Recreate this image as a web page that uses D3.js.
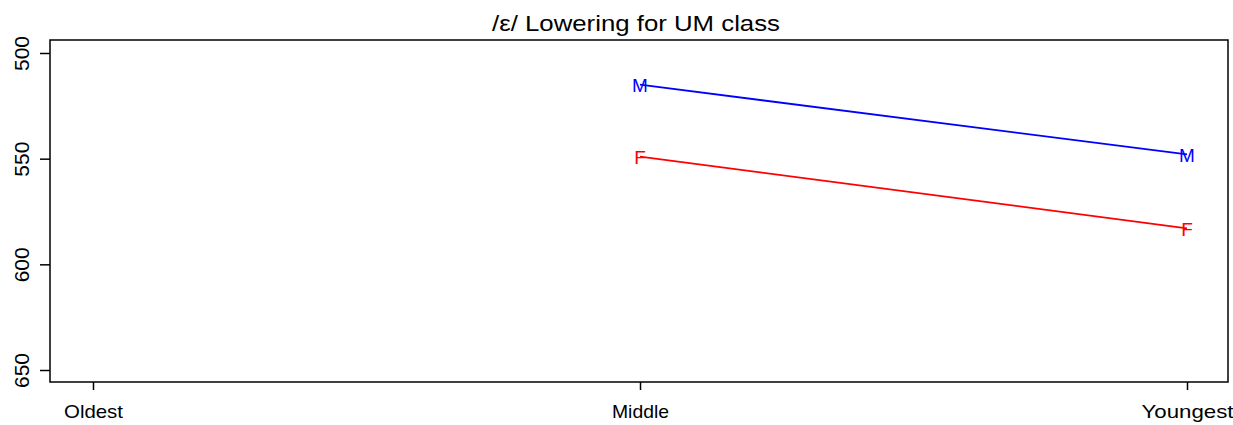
<!DOCTYPE html>
<html>
<head>
<meta charset="utf-8">
<script src="https://cdn.jsdelivr.net/npm/d3@7"></script>
<style>
  html, body { margin: 0; padding: 0; background: #fff; }
  svg { display: block; font-family: Arial, "Liberation Sans", sans-serif; }
</style>
</head>
<body>
<svg id="chart" width="1233" height="425"></svg>
<script>
// Age groups along the x axis
const ageGroups = ["Oldest", "Middle", "Youngest"];
// Mean F1 (Hz) per age group; null where no speakers were recorded
const maleValues = [null, 515, 548];
const femaleValues = [null, 549, 583];
// Y axis ticks (F1, drawn inverted so lower vowels sit lower)
const yTicks = [500, 550, 600, 650];

const series = [
  { label: "M", color: "#0000ff", values: maleValues },
  { label: "F", color: "#ff0000", values: femaleValues }
];

const svg = d3.select("#chart");
const box = { left: 50, right: 1228, top: 40, bottom: 382 };

const x = d3.scalePoint()
  .domain(ageGroups)
  .range([93, 1187]);

const y = d3.scaleLinear()
  .domain([500, 650])
  .range([53, 370]);

// Plot frame
svg.append("rect")
  .attr("x", box.left).attr("y", box.top)
  .attr("width", box.right - box.left).attr("height", box.bottom - box.top)
  .attr("fill", "none").attr("stroke", "#000").attr("stroke-width", 1.5);

// Title
svg.append("text")
  .attr("x", 636).attr("y", 31)
  .attr("text-anchor", "middle")
  .attr("font-size", 22)
  .attr("textLength", 288).attr("lengthAdjust", "spacingAndGlyphs")
  .attr("fill", "#000")
  .text("/ε/ Lowering for UM class");

// Y axis
const yAxis = svg.append("g")
  .attr("transform", `translate(${box.left},0)`)
  .call(d3.axisLeft(y).tickValues(yTicks).tickSize(10).tickFormat(d3.format("d")));
yAxis.select(".domain").remove();
yAxis.selectAll(".tick line").attr("stroke", "#000").attr("stroke-width", 1.5);
yAxis.selectAll(".tick text")
  .attr("x", 0).attr("y", 0)
  .attr("transform", "translate(-28,0) rotate(-90)")
  .attr("text-anchor", "middle")
  .attr("dy", "0.35em")
  .attr("font-size", 21)
  .attr("textLength", 35).attr("lengthAdjust", "spacingAndGlyphs")
  .attr("font-family", "Arial, 'Liberation Sans', sans-serif")
  .attr("fill", "#000");

// X axis
const labelWidths = { Oldest: 59, Middle: 57, Youngest: 92 };
const xAxis = svg.append("g")
  .attr("transform", `translate(0,${box.bottom})`)
  .call(d3.axisBottom(x).tickSize(8).tickPadding(15));
xAxis.select(".domain").remove();
xAxis.selectAll(".tick line").attr("stroke", "#000").attr("stroke-width", 1.5);
xAxis.selectAll(".tick text")
  .attr("font-size", 19)
  .attr("textLength", d => labelWidths[d]).attr("lengthAdjust", "spacingAndGlyphs")
  .attr("font-family", "Arial, 'Liberation Sans', sans-serif")
  .attr("fill", "#000");

// Lines with letter markers
const line = d3.line()
  .defined(d => d.v !== null)
  .x(d => x(d.k))
  .y(d => y(d.v));

series.forEach(s => {
  const pts = ageGroups.map((k, i) => ({ k, v: s.values[i] }));
  svg.append("path")
    .datum(pts)
    .attr("d", line)
    .attr("fill", "none")
    .attr("stroke", s.color)
    .attr("stroke-width", 1.8);
  svg.selectAll(null)
    .data(pts.filter(d => d.v !== null))
    .enter().append("text")
    .attr("x", d => x(d.k))
    .attr("y", d => y(d.v) + 1)
    .attr("text-anchor", "middle")
    .attr("dy", "0.35em")
    .attr("font-size", 19)
    .attr("fill", s.color)
    .text(s.label);
});
</script>
</body>
</html>
